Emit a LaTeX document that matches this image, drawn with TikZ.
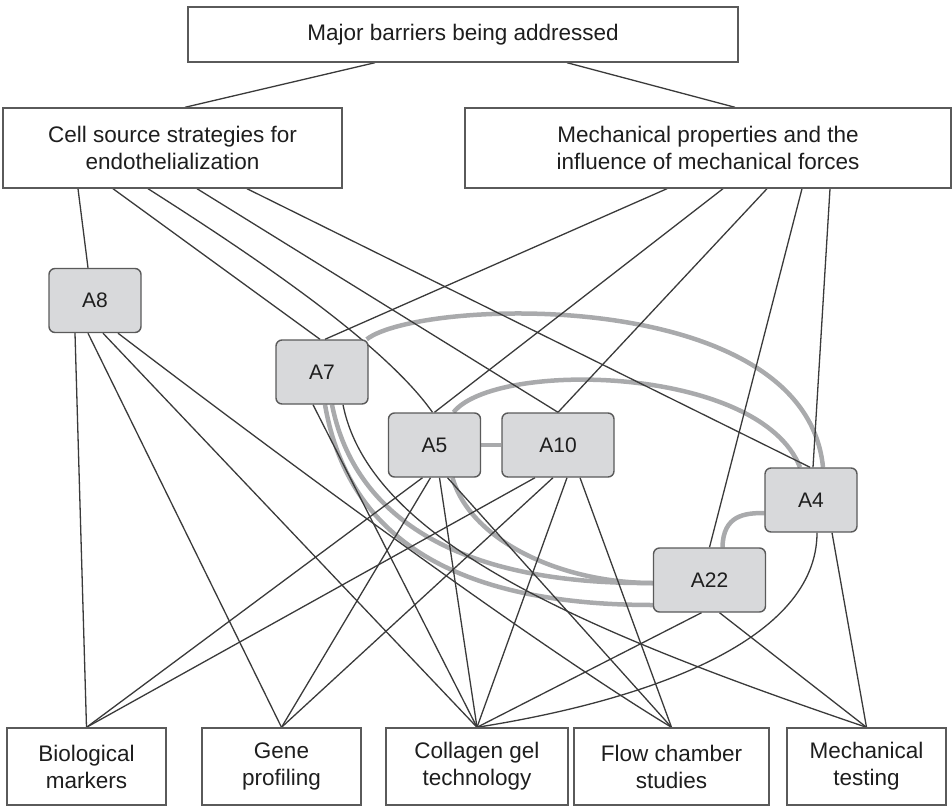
\documentclass[tikz,border=0pt]{standalone}
\usepackage{fontspec}
\setmainfont{Liberation Sans}
\usetikzlibrary{backgrounds}

\definecolor{boxgray}{HTML}{5A5A5A}
\definecolor{studyfill}{HTML}{D8D9DB}
\definecolor{linkgray}{HTML}{3A3A3A}
\definecolor{arcgray}{HTML}{A9AAAC}
\definecolor{inkgray}{HTML}{1E1E1E}

\newcommand{\barrierfont}{\fontsize{22.5}{27}\selectfont}
\newcommand{\studyfont}{\fontsize{21}{25}\selectfont}

\begin{document}
\begin{tikzpicture}[x=1pt, y=-1pt,
		barrier/.style={draw=boxgray, line width=1.4pt, fill=white, text=inkgray,
			align=center, inner sep=0pt, font=\barrierfont},
		study/.style={draw=boxgray, line width=1.4pt, fill=studyfill, text=inkgray,
			rounded corners=6pt, minimum width=92pt, minimum height=64pt,
			inner sep=0pt, font=\studyfont},
		link/.style={draw=linkgray, line width=1.3pt},
		overlap/.style={draw=arcgray, line width=4.5pt}]
		
		\useasboundingbox (0,0) rectangle (952,808);
		
		% Barriers
		\node[barrier, minimum width=550pt, minimum height=55pt] (top) at (463,34.5) {Major barriers being addressed};
		\node[barrier, minimum width=339pt, minimum height=80pt] (cell) at (172.5,148) {Cell source strategies for\\endothelialization};
		\node[barrier, minimum width=486pt, minimum height=80pt] (mech) at (708,148) {Mechanical properties and the\\influence of mechanical forces};
		
		% Studies
		\node[study] (A8) at (95,300.5) {A8};
		\node[study] (A7) at (322,372) {A7};
		\node[study] (A5) at (434.5,445) {A5};
		\node[study, minimum width=112pt] (A10) at (558,445) {A10};
		\node[study] (A4) at (811,500) {A4};
		\node[study, minimum width=112pt] (A22) at (709.5,580) {A22};
		
		% Techniques
		\node[barrier, minimum width=159pt, minimum height=77pt] (bio) at (86.5,766.5) {Biological\\markers};
		\node[barrier, minimum width=159pt, minimum height=77pt] (gene) at (281.5,766.5) {Gene\\profiling};
		\node[barrier, minimum width=182pt, minimum height=77pt] (coll) at (477,766.5) {Collagen gel\\technology};
		\node[barrier, minimum width=195pt, minimum height=77pt] (flow) at (671.5,766.5) {Flow chamber\\studies};
		\node[barrier, minimum width=159pt, minimum height=77pt] (mtest) at (866.5,766.5) {Mechanical\\testing};
		
		\begin{scope}[on background layer]
			% Overlapping studies
			\draw[overlap] (A5.east) -- (A10.west);
			\draw[overlap] ([xshift=-2pt]A7.north east) .. controls (420,298) and (805,285) .. ([xshift=12pt]A4.north);
			\draw[overlap] ([xshift=19pt]A5.north) .. controls (495,360) and (760,365) .. ([xshift=-11pt]A4.north);
			\draw[overlap] ([xshift=3pt]A7.south) .. controls (345,520) and (430,605) .. ([yshift=-25pt]A22.west);
			\draw[overlap] ([xshift=10pt]A7.south) .. controls (352,505) and (440,585) .. ([yshift=-3pt]A22.west);
			\draw[overlap] ([xshift=18pt]A5.south) .. controls (470,540) and (560,583) .. ([yshift=-3pt]A22.west);
			\draw[overlap] ([xshift=13pt]A22.north) .. controls (723,515) and (745,513) .. ([yshift=-13pt]A4.west);
			
			% Barrier links
			\draw[link] ([xshift=-88pt]top.south) -- ([xshift=12.5pt]cell.north);
			\draw[link] ([xshift=104pt]top.south) -- ([xshift=27pt]mech.north);
			
			% Cell source
			\draw[link] ([xshift=-94.5pt]cell.south) -- ([xshift=-7pt]A8.north);
			\draw[link] ([xshift=-59.5pt]cell.south) -- ([xshift=-2pt]A7.north);
			\draw[link] ([xshift=-24.5pt]cell.south) .. controls (260,260) and (385,345) .. ([xshift=-2pt]A5.north);
			\draw[link] ([xshift=24.5pt]cell.south) -- (A10.north);
			\draw[link] ([xshift=74.5pt]cell.south) -- ([xshift=-1pt]A4.north);
			
			% Mechanical properties
			\draw[link] ([xshift=-41pt]mech.south) -- ([xshift=3pt]A7.north);
			\draw[link] ([xshift=15pt]mech.south) -- (A5.north);
			\draw[link] ([xshift=59pt]mech.south) -- (A10.north);
			\draw[link] ([xshift=94pt]mech.south) -- (A22.north);
			\draw[link] ([xshift=122pt]mech.south) -- ([xshift=2pt]A4.north);
			
			% A8
			\draw[link] ([xshift=-20pt]A8.south) -- (bio.north);
			\draw[link] ([xshift=-7pt]A8.south) -- (gene.north);
			\draw[link] ([xshift=8pt]A8.south) -- (coll.north);
			\draw[link] ([xshift=23pt]A8.south) .. controls (350,510) and (560,660) .. (flow.north);
			
			% A7
			\draw[link] ([xshift=-9pt]A7.south) -- (coll.north);
			\draw[link] ([xshift=21pt]A7.south) .. controls (370,540) and (580,630) .. (mtest.north);
			
			% A5
			\draw[link] ([xshift=-12pt]A5.south) -- (bio.north);
			\draw[link] ([xshift=-4pt]A5.south) -- (gene.north);
			\draw[link] ([xshift=5pt]A5.south) -- (coll.north);
			\draw[link] ([xshift=13pt]A5.south) -- (flow.north);
			
			% A10
			\draw[link] ([xshift=-23pt]A10.south) -- (bio.north);
			\draw[link] ([xshift=-5pt]A10.south) -- (gene.north);
			\draw[link] ([xshift=9pt]A10.south) -- (coll.north);
			\draw[link] ([xshift=22pt]A10.south) -- (flow.north);
			
			% A22 and A4
			\draw[link] ([xshift=-8pt]A22.south) -- (coll.north);
			\draw[link] ([xshift=10pt]A22.south) -- (mtest.north);
			\draw[link] ([xshift=6pt]A4.south) .. controls (817,640) and (650,700) .. (coll.north);
			\draw[link] ([xshift=21pt]A4.south) -- (mtest.north);
		\end{scope}
		
	\end{tikzpicture}
\end{document}
